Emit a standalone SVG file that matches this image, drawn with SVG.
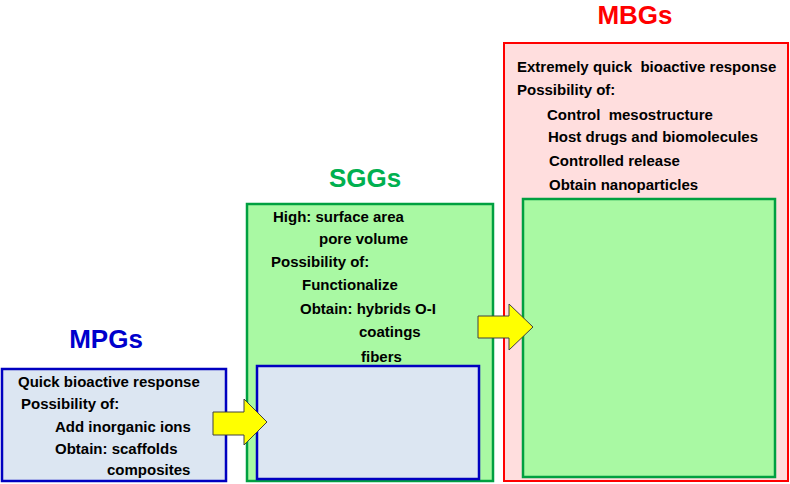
<svg xmlns="http://www.w3.org/2000/svg" width="790" height="484" viewBox="0 0 790 484">
<style>
.t{font-family:"Liberation Sans",Arial,sans-serif;font-weight:bold;font-size:15px;fill:#000;white-space:pre}
.title{font-family:"Liberation Sans",Arial,sans-serif;font-weight:bold;font-size:26px;text-anchor:middle}
.mpg{fill:#dce6f2;stroke:#0000c0;stroke-width:2.5}
.sgg{fill:#a9f9a3;stroke:#00a040;stroke-width:2.5}
.mbg{fill:#ffdede;stroke:#ff0000;stroke-width:2}
.arr{fill:#ffff00;stroke:#404040;stroke-width:1}
</style>
<rect width="790" height="484" fill="#fff"/>
<g id="MBGs">
<text class="title" x="635" y="24" fill="#ff0000">MBGs</text>
<rect class="mbg" x="504" y="43" width="284" height="438"/>
<text class="t" x="517" y="72" xml:space="preserve">Extremely quick  bioactive response</text>
<text class="t" x="517" y="95">Possibility of:</text>
<text class="t" x="547" y="120" xml:space="preserve">Control  mesostructure</text>
<text class="t" x="548" y="142">Host drugs and biomolecules</text>
<text class="t" x="549" y="166">Controlled release</text>
<text class="t" x="549" y="190">Obtain nanoparticles</text>
<rect class="sgg" x="523" y="199" width="252" height="278"/>
</g>
<g id="SGGs">
<text class="title" x="365" y="187" fill="#00b050">SGGs</text>
<rect class="sgg" x="247" y="204" width="246" height="277"/>
<text class="t" x="273" y="222">High: surface area</text>
<text class="t" x="319" y="244">pore volume</text>
<text class="t" x="271" y="267">Possibility of:</text>
<text class="t" x="302" y="290">Functionalize</text>
<text class="t" x="300" y="314">Obtain: hybrids O-I</text>
<text class="t" x="359" y="337">coatings</text>
<text class="t" x="361" y="362">fibers</text>
<rect class="mpg" x="257" y="366" width="222" height="113"/>
</g>
<g id="MPGs">
<text class="title" x="106" y="348" fill="#0000cc">MPGs</text>
<rect class="mpg" x="2" y="369" width="224" height="112"/>
<text class="t" x="18" y="387">Quick bioactive response</text>
<text class="t" x="21" y="409">Possibility of:</text>
<text class="t" x="55" y="432">Add inorganic ions</text>
<text class="t" x="55" y="454">Obtain: scaffolds</text>
<text class="t" x="107" y="475">composites</text>
</g>
<g id="connectors">
<polygon class="arr" points="213,412 244,412 244,399 267,422 244,445 244,435 213,435"/>
<polygon class="arr" points="478,316 509,316 509,304 533,327 509,350 509,338 478,338"/>
</g>
</svg>
